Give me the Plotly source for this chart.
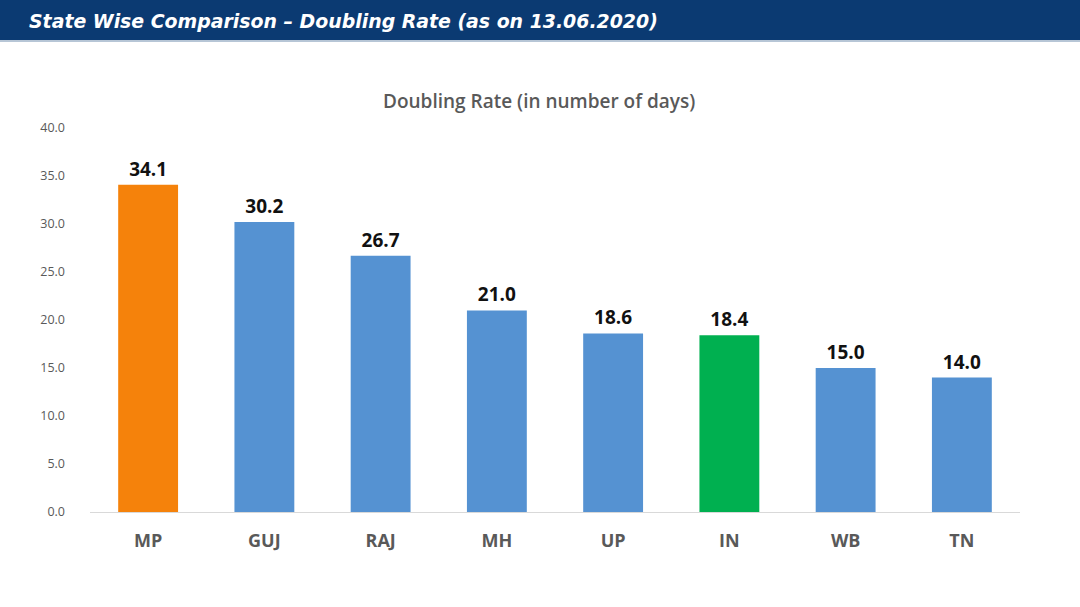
import plotly.graph_objects as go

states = ["MP", "GUJ", "RAJ", "MH", "UP", "IN", "WB", "TN"]
doubling_days = [34.1, 30.2, 26.7, 21.0, 18.6, 18.4, 15.0, 14.0]
bar_colors = ["#F5820B", "#5592D2", "#5592D2", "#5592D2", "#5592D2", "#00B050", "#5592D2", "#5592D2"]
y_ticks = [0, 5, 10, 15, 20, 25, 30, 35, 40]

W, H = 1080, 607
ml, mr, mt, mb = 90, 60, 128, 95
pw, ph = W - ml - mr, H - mt - mb

def px_x(x):
    return (x - ml) / pw

def px_y(y):
    return (H - mb - y) / ph

fig = go.Figure()
fig.add_trace(go.Bar(
    x=states, y=doubling_days,
    marker=dict(color=bar_colors, line=dict(width=0)),
    text=[f"{v:.1f}" for v in doubling_days],
    textposition="outside",
    textfont=dict(family="Open Sans", size=19, color="#111111", weight="bold"),
    cliponaxis=False,
    hoverinfo="skip",
))

fig.update_layout(
    width=W, height=H,
    margin=dict(l=ml, r=mr, t=mt, b=mb),
    paper_bgcolor="white", plot_bgcolor="white",
    bargap=0.485,
    showlegend=False,
    title=dict(
        text="State Wise Comparison – Doubling Rate (as on 13.06.2020)",
        x=29 / W, xanchor="left", xref="container",
        y=1 - 21 / H, yanchor="middle", yref="container",
        font=dict(family="DejaVu Sans", size=18.9, color="white", style="italic", weight="bold"),
    ),
    xaxis=dict(
        showgrid=False, showline=True, linecolor="#D9D9D9", linewidth=1,
        ticks="", ticklabelstandoff=12,
        tickfont=dict(family="Open Sans", size=18, color="#595959", weight="bold"),
    ),
    yaxis=dict(
        range=[0, 40], tickvals=y_ticks, ticktext=[f"{v:.1f}" for v in y_ticks],
        showgrid=False, zeroline=False, showline=False, ticks="",
        ticklabelstandoff=24,
        tickfont=dict(family="Open Sans", size=12.5, color="#595959"),
    ),
    shapes=[
        dict(type="rect", xref="paper", yref="paper",
             x0=px_x(0), x1=px_x(W), y0=px_y(40), y1=px_y(0),
             fillcolor="#0B3A72", line=dict(width=0), layer="below"),
        dict(type="line", xref="paper", yref="paper",
             x0=px_x(0), x1=px_x(W), y0=px_y(41), y1=px_y(41),
             line=dict(color="#9FB3C8", width=1.5)),
    ],
    annotations=[
        dict(text="Doubling Rate (in number of days)", xref="paper", yref="paper",
             x=px_x(539), y=px_y(101), xanchor="center", yanchor="middle",
             showarrow=False,
             font=dict(family="Open Sans", size=19, color="#595959", weight=600)),
    ],
)

fig.write_html("out.html", config={"displayModeBar": False},
               post_script="document.body.style.margin='0';")
